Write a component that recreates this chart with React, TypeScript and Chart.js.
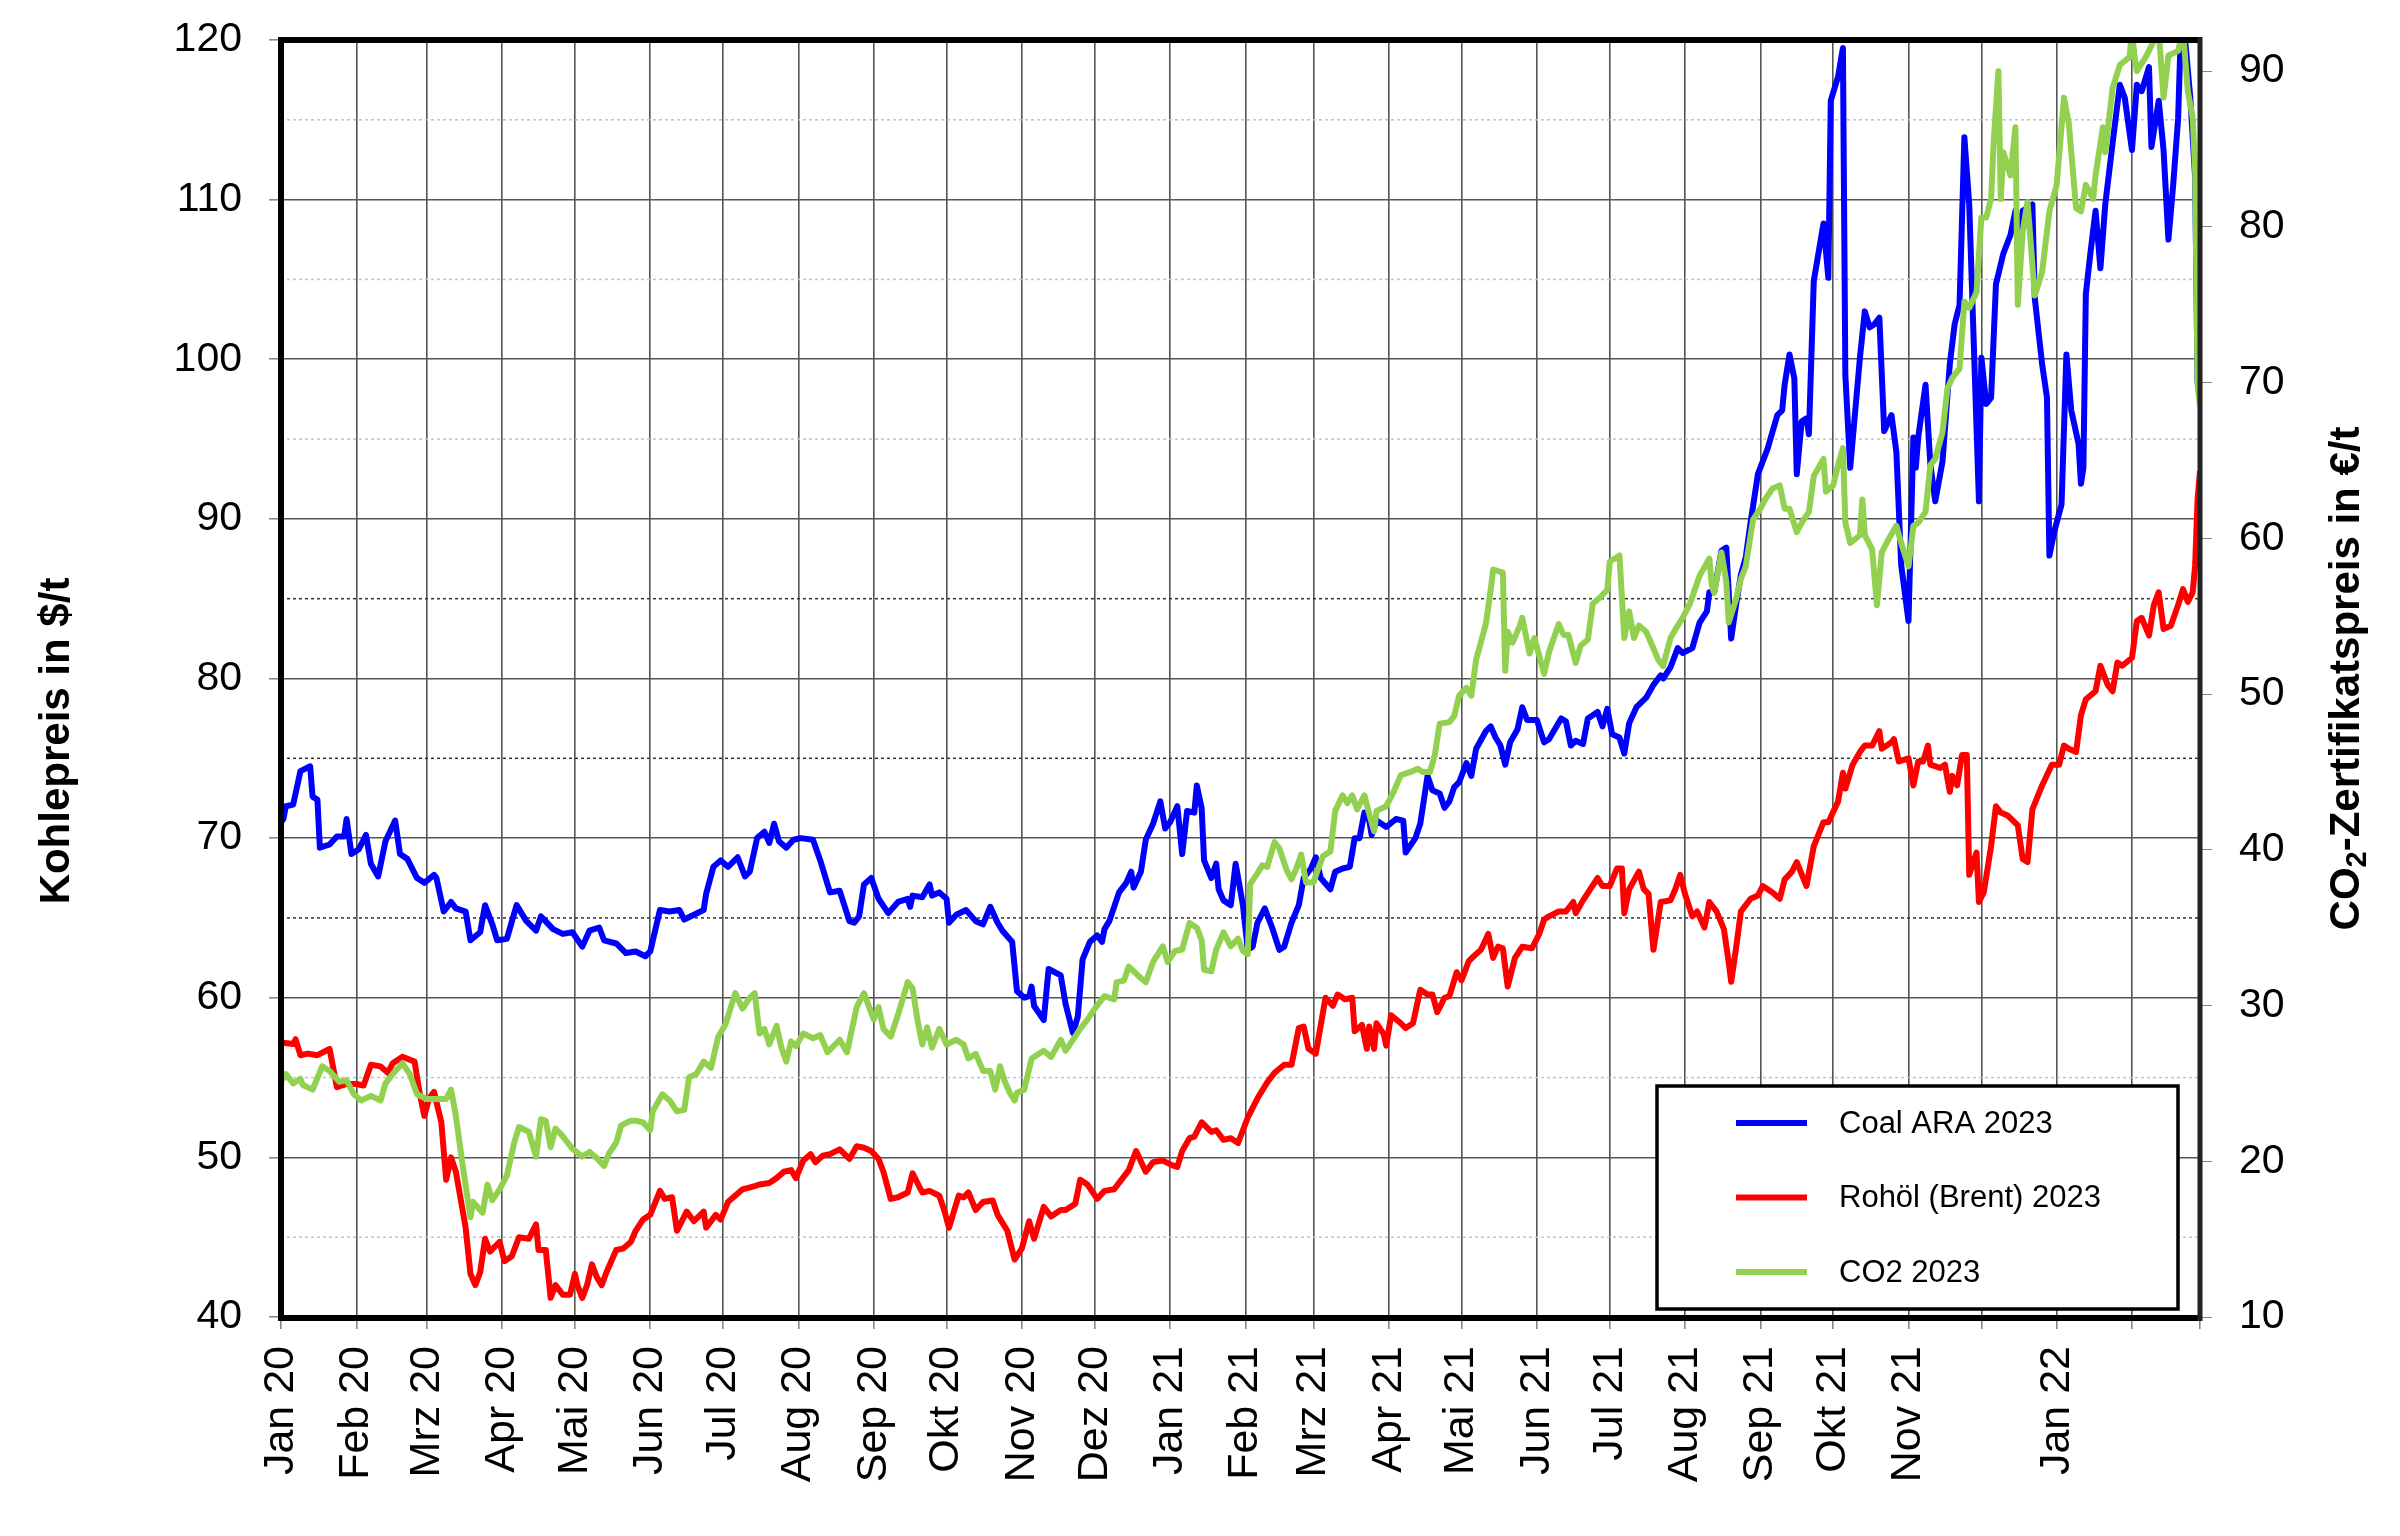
import { useEffect, useRef } from "react";
import { Chart, registerables } from "chart.js";

Chart.register(...registerables);

// days since 1 Jan 2020 for each month start (grid lines), last one = 1 Mar 2022
const monthStarts = [0, 31, 60, 91, 121, 152, 182, 213, 244, 274, 305, 335, 366, 397, 425, 456, 486, 517, 547, 578, 609, 639, 670, 700, 731, 762, 790];
const monthLabels = ["Jan 20", "Feb 20", "Mrz 20", "Apr 20", "Mai 20", "Jun 20", "Jul 20", "Aug 20", "Sep 20", "Okt 20", "Nov 20", "Dez 20", "Jan 21", "Feb 21", "Mrz 21", "Apr 21", "Mai 21", "Jun 21", "Jul 21", "Aug 21", "Sep 21", "Okt 21", "Nov 21", "", "Jan 22", "", ""];

const seriesLabels = ["Coal ARA 2023", "Rohöl (Brent) 2023", "CO2 2023"];
const seriesColors = ["#0000ff", "#ff0000", "#92d050"];

// [day, $/t]
const coal: [number, number][] = [
  [0, 71.0], [1, 71.2], [2, 72.0], [5, 72.1], [8, 74.2], [12, 74.5], [13, 72.6], [15, 72.4], [16, 69.4], [20, 69.6], [23, 70.1], [26, 70.1], [27, 71.2], [29, 69.0], [32, 69.3], [35, 70.2], [37, 68.4], [40, 67.6], [43, 69.8], [47, 71.1], [49, 69.0], [52, 68.7], [56, 67.5], [59, 67.2], [63, 67.7], [64, 67.5], [67, 65.4], [70, 66.0], [72, 65.6], [76, 65.4], [78, 63.6], [82, 64.1], [84, 65.8], [87, 64.6], [89, 63.6], [93, 63.7], [97, 65.8], [101, 64.8], [105, 64.2], [107, 65.1], [112, 64.3], [116, 64.0], [120, 64.1], [124, 63.2], [127, 64.2], [131, 64.4], [133, 63.6], [138, 63.4], [142, 62.8], [146, 62.9], [150, 62.6], [152, 62.9], [156, 65.5], [160, 65.4], [164, 65.5], [166, 64.9], [170, 65.2], [174, 65.5], [175, 66.5], [178, 68.2], [181, 68.6], [184, 68.2], [188, 68.8], [191, 67.6],
  [193, 67.9], [196, 70.0], [199, 70.4], [201, 69.7], [203, 70.9], [205, 69.8], [208, 69.4], [211, 69.9], [214, 70.0], [219, 69.9], [222, 68.6], [226, 66.6], [230, 66.7], [234, 64.8], [236, 64.7], [238, 65.1], [240, 67.1], [243, 67.5], [246, 66.2], [250, 65.3], [254, 66.0], [258, 66.2], [259, 65.7], [260, 66.4], [264, 66.3], [267, 67.1], [268, 66.4], [271, 66.6], [274, 66.2], [275, 64.7], [278, 65.2], [282, 65.5], [286, 64.8], [289, 64.6], [292, 65.7], [295, 64.7], [297, 64.2], [301, 63.5], [303, 60.4], [306, 60.0], [308, 60.1], [309, 60.7], [310, 59.5], [314, 58.6], [316, 61.8], [321, 61.4], [323, 59.6], [326, 57.8], [328, 58.8], [330, 62.4], [333, 63.5], [336, 63.9], [338, 63.5], [339, 64.3], [341, 64.8], [345, 66.6], [348, 67.2], [350, 67.9], [351, 66.9], [354, 67.9], [356, 69.9], [359, 70.9], [362, 72.3], [364, 70.6], [366, 71.0], [369, 72.0], [371, 69.0], [373, 71.7], [376, 71.6], [377, 73.3], [379, 71.9], [380, 68.6], [383, 67.5], [385, 68.4], [386, 66.8], [388, 66.1], [391, 65.8], [393, 68.4],
  [396, 65.8], [398, 63.0], [400, 63.2], [402, 64.7], [405, 65.6], [408, 64.4], [411, 63.0], [413, 63.2], [416, 64.7], [419, 65.8], [421, 67.5], [424, 68.1], [426, 68.8], [428, 67.5], [432, 66.8], [434, 67.9], [437, 68.1], [440, 68.2], [442, 70.0], [444, 70.0], [446, 71.6], [448, 71.1], [449, 70.2], [451, 71.1], [455, 70.7], [459, 71.2], [462, 71.1], [463, 69.1], [467, 70.0], [469, 70.9], [472, 73.9], [474, 73.0], [477, 72.8], [479, 71.9], [481, 72.3], [483, 73.2], [485, 73.5], [488, 74.7], [490, 73.9], [492, 75.6], [496, 76.7], [498, 77.0], [500, 76.3], [502, 75.8], [504, 74.6], [506, 76.0], [509, 76.8], [511, 78.2], [513, 77.4], [517, 77.4], [520, 76.0], [522, 76.2], [527, 77.5], [529, 77.3], [531, 75.8], [533, 76.1], [536, 75.9], [538, 77.5], [542, 77.9], [544, 77.0], [546, 78.1], [548, 76.5], [551, 76.3], [553, 75.3], [555, 77.2], [558, 78.2], [562, 78.8], [565, 79.6], [568, 80.2], [569, 80.0], [572, 80.7], [575, 81.9], [577, 81.6], [581, 81.9], [584, 83.5],
  [587, 84.2], [588, 85.4], [590, 85.4], [593, 88.0], [595, 88.2], [597, 82.5], [599, 84.6], [601, 86.5], [603, 87.6], [605, 89.8], [608, 92.8], [612, 94.4], [616, 96.5], [618, 96.8], [619, 98.4], [621, 100.3], [623, 98.8], [624, 92.8], [626, 96.1], [628, 96.3], [629, 95.3], [631, 104.9], [635, 108.5], [637, 105.1], [638, 116.2], [641, 117.7], [643, 119.5], [644, 99.0], [646, 93.2], [650, 100.1], [652, 103.0], [654, 102.0], [656, 102.2], [658, 102.6], [660, 95.5], [663, 96.5], [665, 94.2], [667, 87.1], [670, 83.6], [672, 95.1], [673, 93.2], [674, 95.1], [677, 98.4], [679, 93.4], [681, 91.1], [684, 93.6], [687, 99.7], [689, 102.2], [691, 103.4], [693, 113.9], [695, 109.7], [699, 91.1], [700, 100.1], [702, 97.2], [704, 97.6], [706, 104.7], [709, 106.6], [712, 107.8], [714, 109.3], [716, 108.0], [717, 109.3], [721, 109.7], [722, 103.8], [725, 99.7], [727, 97.6], [728, 87.7], [730, 89.2], [733, 90.9], [735, 100.3], [737, 96.8], [740, 94.7], [741, 92.2], [742, 93.2], [743, 104.1], [745, 106.8], [747, 109.3], [749, 105.7], [751, 109.7], [754, 113.5], [757, 117.2], [759, 116.4], [762, 113.1], [764, 117.2], [766, 116.8], [769, 118.3], [770, 113.3], [773, 116.2], [775, 113.1], [777, 107.5], [779, 111.0], [781, 115.1], [782, 120.0], [784, 119.8], [786, 116.4], [788, 111.4], [789, 98.5],
];

// [day, $/bbl]
const brent: [number, number][] = [
  [0, 57.2], [5, 57.1], [6, 57.4], [8, 56.4], [11, 56.5], [15, 56.4], [20, 56.8], [23, 54.4], [27, 54.6], [31, 54.6], [34, 54.5], [37, 55.8], [41, 55.7], [44, 55.3], [46, 55.9], [50, 56.3], [55, 56.0], [57, 54.1], [59, 52.6], [61, 53.7], [63, 54.1], [66, 52.2], [68, 48.6], [70, 50.0], [72, 49.1], [76, 45.6], [78, 42.7], [80, 42.0], [82, 42.8], [84, 44.9], [86, 44.1], [90, 44.7], [92, 43.5], [95, 43.8], [98, 45.0], [102, 44.9], [105, 45.8], [106, 44.2], [109, 44.2], [111, 41.2], [113, 42.0], [116, 41.4], [119, 41.4], [121, 42.7], [122, 42.0], [124, 41.2], [126, 42.0], [128, 43.3], [130, 42.5], [132, 42.0], [134, 42.8], [138, 44.2], [141, 44.3], [144, 44.7], [146, 45.4], [149, 46.1], [152, 46.4], [156, 47.9], [158, 47.4], [161, 47.5], [163, 45.4], [167, 46.6], [170, 46.0], [174, 46.6], [175, 45.6], [179, 46.4], [181, 46.1], [184, 47.2], [190, 48.0],
  [195, 48.2], [197, 48.3], [201, 48.4], [204, 48.7], [207, 49.1], [210, 49.2], [212, 48.7], [215, 49.8], [218, 50.2], [220, 49.7], [223, 50.1], [226, 50.2], [230, 50.5], [234, 49.9], [237, 50.7], [240, 50.6], [243, 50.4], [246, 49.9], [248, 49.1], [251, 47.4], [254, 47.5], [258, 47.8], [260, 49.0], [264, 47.8], [267, 47.9], [271, 47.6], [273, 46.7], [275, 45.6], [279, 47.6], [281, 47.5], [283, 47.8], [286, 46.7], [289, 47.2], [293, 47.3], [295, 46.4], [299, 45.4], [302, 43.6], [305, 44.3], [308, 46.0], [310, 44.9], [314, 46.9], [317, 46.3], [321, 46.7], [323, 46.7], [327, 47.1], [329, 48.6], [332, 48.3], [336, 47.4], [339, 47.9], [343, 48.0], [345, 48.4], [349, 49.2], [352, 50.4], [356, 49.1], [359, 49.7], [363, 49.8], [367, 49.5], [369, 49.4], [371, 50.4], [374, 51.2], [376, 51.3], [379, 52.2], [383, 51.6], [385, 51.7], [388, 51.1], [391, 51.2], [394, 50.9],
  [398, 52.5], [402, 53.7], [406, 54.7], [409, 55.3], [413, 55.8], [416, 55.8], [419, 58.1], [421, 58.2], [423, 56.8], [426, 56.5], [430, 60.0], [433, 59.5], [435, 60.2], [438, 59.9], [441, 60.0], [442, 57.9], [445, 58.3], [447, 56.8], [448, 58.2], [450, 56.8], [451, 58.4], [454, 57.7], [455, 57.0], [457, 58.9], [461, 58.4], [463, 58.1], [466, 58.4], [469, 60.5], [472, 60.2], [474, 60.2], [476, 59.1], [479, 60.0], [481, 60.1], [484, 61.6], [486, 61.1], [489, 62.3], [491, 62.6], [494, 63.0], [497, 64.0], [499, 62.5], [501, 63.2], [503, 63.1], [505, 60.7], [508, 62.5], [511, 63.2], [515, 63.1], [518, 64.0], [520, 64.9], [522, 65.1], [526, 65.4], [529, 65.4], [532, 66.0], [533, 65.3], [536, 66.1], [539, 66.8], [542, 67.5], [544, 67.0], [547, 67.0], [550, 68.1], [552, 68.1], [553, 65.3], [555, 66.8], [559, 67.9], [561, 66.8], [563, 66.5], [565, 63.0], [568, 66.0], [572, 66.1], [574, 66.8], [576, 67.7], [578, 66.5], [581, 65.1], [583, 65.4], [586, 64.4],
  [588, 66.0], [591, 65.4], [594, 64.3], [596, 62.2], [597, 61.0], [599, 63.1], [601, 65.4], [603, 65.8], [605, 66.2], [608, 66.4], [610, 67.0], [614, 66.6], [617, 66.2], [619, 67.4], [622, 67.9], [624, 68.5], [628, 67.0], [631, 69.5], [635, 71.0], [637, 71.0], [641, 72.3], [643, 74.1], [644, 73.1], [647, 74.6], [650, 75.4], [652, 75.8], [655, 75.8], [658, 76.7], [659, 75.6], [663, 76.0], [664, 76.2], [666, 74.8], [670, 75.0], [672, 73.3], [674, 74.8], [676, 74.8], [678, 75.8], [679, 74.6], [683, 74.4], [685, 74.6], [687, 72.9], [688, 73.9], [690, 73.3], [692, 75.2], [694, 75.2], [695, 67.7], [698, 69.1], [699, 66.0], [701, 66.6], [704, 69.5], [706, 72.0], [708, 71.6], [711, 71.4], [715, 70.8], [717, 68.7], [719, 68.5], [721, 71.8], [725, 73.3], [729, 74.6], [732, 74.6], [734, 75.8], [736, 75.6], [739, 75.4], [741, 77.7], [743, 78.7], [747, 79.2], [749, 80.8], [752, 79.6], [754, 79.2], [756, 81.0], [758, 80.8], [762, 81.3], [764, 83.6], [766, 83.8], [769, 82.7], [771, 84.6], [773, 85.4], [775, 83.1], [778, 83.3], [781, 84.6], [783, 85.6], [785, 84.8], [787, 85.4], [788, 87.1], [789, 91.2], [790, 93.0],
];

// [day, €/t]
const co2: [number, number][] = [
  [0, 25.5], [1, 25.3], [2, 25.6], [5, 25.0], [8, 25.3], [9, 24.9], [13, 24.6], [17, 26.1], [20, 25.8], [24, 25.1], [27, 25.2], [30, 24.3], [33, 23.9], [37, 24.2], [41, 23.9], [43, 25.0], [46, 25.6], [50, 26.3], [53, 25.6], [56, 24.3], [60, 24.0], [64, 24.0], [68, 24.0], [70, 24.6], [72, 22.9], [75, 19.5], [78, 16.4], [79, 17.4], [83, 16.7], [85, 18.5], [87, 17.5], [90, 18.2], [93, 19.1], [96, 21.2], [98, 22.2], [102, 21.9], [105, 20.3], [107, 22.7], [109, 22.6], [111, 20.9], [113, 22.1], [116, 21.6], [120, 20.8], [124, 20.3], [127, 20.6], [130, 20.2], [133, 19.7], [135, 20.5], [138, 21.2], [140, 22.3], [144, 22.6], [146, 22.6], [149, 22.5], [152, 22.0], [153, 23.2], [157, 24.3], [160, 23.9], [163, 23.2], [166, 23.3], [168, 25.4], [171, 25.6], [174, 26.4], [177, 26.0], [180, 28.0], [183, 28.8], [187, 30.8], [190, 29.8],
  [193, 30.5], [195, 30.8], [197, 28.2], [199, 28.5], [201, 27.5], [204, 28.7], [206, 27.3], [208, 26.4], [210, 27.7], [212, 27.4], [215, 28.2], [219, 27.9], [222, 28.1], [225, 27.0], [230, 27.8], [233, 27.0], [237, 29.9], [240, 30.8], [244, 29.1], [246, 29.9], [248, 28.5], [251, 28.0], [254, 29.4], [258, 31.5], [260, 31.1], [262, 29.1], [264, 27.5], [266, 28.6], [268, 27.3], [271, 28.5], [274, 27.5], [278, 27.8], [281, 27.5], [283, 26.6], [286, 26.9], [289, 25.8], [292, 25.8], [294, 24.6], [296, 26.1], [298, 25.1], [300, 24.4], [302, 23.9], [303, 24.4], [306, 24.6], [309, 26.6], [313, 27.0], [314, 27.1], [317, 26.7], [321, 27.8], [323, 27.1], [326, 27.8], [329, 28.5], [332, 29.1], [335, 29.8], [339, 30.6], [343, 30.4], [344, 31.5], [347, 31.6], [349, 32.5], [351, 32.2], [353, 31.9], [356, 31.5], [359, 32.8], [363, 33.8], [365, 32.8], [368, 33.5], [371, 33.6], [374, 35.3], [377, 35.0], [379, 34.2], [380, 32.3], [383, 32.2], [385, 33.6], [388, 34.7], [391, 33.8], [394, 34.3], [396, 33.5],
  [398, 33.3], [399, 37.8], [402, 38.5], [404, 39.0], [406, 38.9], [409, 40.5], [411, 40.1], [414, 38.7], [416, 38.1], [418, 38.8], [420, 39.7], [422, 37.9], [425, 37.9], [427, 38.8], [429, 39.6], [432, 39.9], [434, 42.5], [437, 43.5], [439, 43.0], [441, 43.5], [443, 42.6], [446, 43.5], [448, 42.3], [450, 41.2], [451, 42.5], [455, 42.8], [458, 43.7], [461, 44.8], [465, 45.0], [468, 45.2], [470, 45.0], [473, 45.0], [475, 46.1], [477, 48.1], [481, 48.2], [483, 48.6], [485, 49.9], [488, 50.4], [490, 49.9], [492, 52.2], [496, 54.5], [498, 56.7], [499, 58.0], [503, 57.8], [504, 51.5], [505, 54.0], [507, 53.3], [510, 54.4], [511, 54.9], [514, 52.6], [516, 53.6], [520, 51.3], [522, 52.7], [526, 54.5], [528, 53.8], [530, 53.8], [533, 52.0], [535, 53.1], [538, 53.5], [540, 55.8], [543, 56.2], [546, 56.7], [547, 58.5], [551, 58.9], [553, 53.6], [555, 55.3], [557, 53.6], [559, 54.4], [562, 54.0], [564, 53.3], [567, 52.2], [569, 51.8], [572, 53.6], [575, 54.4], [577, 54.9], [580, 55.8], [584, 57.6],
  [588, 58.7], [589, 57.0], [590, 56.5], [593, 59.1], [595, 57.2], [596, 54.6], [599, 56.1], [601, 57.4], [603, 58.2], [606, 61.2], [609, 61.9], [611, 62.5], [614, 63.2], [617, 63.4], [619, 61.9], [621, 61.9], [624, 60.4], [626, 61.0], [629, 61.7], [631, 64.0], [635, 65.1], [636, 63.0], [639, 63.4], [641, 64.7], [643, 65.8], [644, 61.0], [646, 59.7], [650, 60.2], [651, 62.5], [652, 60.2], [655, 59.3], [657, 55.7], [659, 59.1], [662, 60.0], [665, 60.8], [667, 59.7], [670, 58.2], [672, 60.8], [674, 61.0], [677, 61.7], [679, 64.7], [681, 65.1], [684, 66.8], [686, 69.6], [688, 70.3], [691, 70.9], [693, 75.2], [695, 74.8], [698, 75.8], [700, 80.6], [702, 80.6], [704, 81.8], [705, 85.3], [707, 90.0], [708, 81.8], [709, 84.8], [712, 83.3], [714, 86.4], [715, 75.0], [717, 79.7], [719, 81.6], [722, 75.6], [725, 77.1], [728, 81.0], [731, 82.7], [734, 88.3], [736, 86.6], [739, 81.2], [741, 81.0], [743, 82.7], [746, 81.8], [747, 83.3], [750, 86.4], [751, 84.8], [754, 88.9], [757, 90.4], [761, 90.9], [762, 92.6], [763, 91.0], [764, 90.0], [768, 91.0], [773, 92.6], [775, 88.3], [777, 91.0], [781, 91.3], [783, 92.6], [785, 88.7], [787, 87.0], [788, 83.6], [789, 69.8], [790, 68.5],
];

const FONT = "'Liberation Sans', Arial, sans-serif";

const decorPlugin = {
  id: "decor",
  beforeDatasetsDraw(chart: any) {
    const { ctx, chartArea: a, scales } = chart;
    ctx.save();
    ctx.lineWidth = 1.5;
    ctx.setLineDash([3, 3]);
    for (let v = 45; v < 120; v += 10) {
      const py = scales.y.getPixelForValue(v);
      ctx.strokeStyle = v >= 65 && v <= 85 ? "#333" : "#c4c4c4";
      ctx.beginPath();
      ctx.moveTo(a.left, py);
      ctx.lineTo(a.right, py);
      ctx.stroke();
    }
    ctx.restore();
  },
  afterDatasetsDraw(chart: any) {
    const { ctx, chartArea: a } = chart;
    ctx.save();
    ctx.strokeStyle = "#000";
    ctx.lineWidth = 6;
    ctx.beginPath();
    ctx.moveTo(a.left, a.bottom + 1);
    ctx.lineTo(a.left, a.top);
    ctx.lineTo(a.right, a.top);
    ctx.moveTo(a.left - 3, a.bottom + 1);
    ctx.lineTo(a.right, a.bottom + 1);
    ctx.stroke();
    ctx.strokeStyle = "#222";
    ctx.lineWidth = 5;
    ctx.beginPath();
    ctx.moveTo(a.right, a.top - 3);
    ctx.lineTo(a.right, a.bottom + 4);
    ctx.stroke();
    ctx.restore();
  },
  afterDraw(chart: any) {
    const { ctx, chartArea: a } = chart;
    ctx.save();
    ctx.fillStyle = "#000";
    ctx.textBaseline = "middle";

    // left axis title
    ctx.font = `bold 42px ${FONT}`;
    ctx.textAlign = "center";
    ctx.save();
    ctx.translate(57, a.top + 701);
    ctx.rotate(-Math.PI / 2);
    ctx.fillText("Kohlepreis in $/t", 0, 0);
    ctx.restore();

    // right axis title with subscript
    const p1 = "CO";
    const p2 = "2";
    const p3 = "-Zertifikatspreis in €/t";
    ctx.font = `bold 42px ${FONT}`;
    const w1 = ctx.measureText(p1).width;
    const w3 = ctx.measureText(p3).width;
    ctx.font = `bold 29px ${FONT}`;
    const w2 = ctx.measureText(p2).width;
    const total = w1 + w2 + w3;
    ctx.save();
    ctx.translate(a.right + 147, (a.top + a.bottom) / 2);
    ctx.rotate(-Math.PI / 2);
    ctx.textAlign = "left";
    let x = -total / 2;
    ctx.font = `bold 42px ${FONT}`;
    ctx.fillText(p1, x, 0);
    x += w1;
    ctx.font = `bold 29px ${FONT}`;
    ctx.fillText(p2, x, 11);
    x += w2;
    ctx.font = `bold 42px ${FONT}`;
    ctx.fillText(p3, x, 0);
    ctx.restore();

    // legend box
    const bx = a.right - 543;
    const by = a.bottom - 231;
    const bw = 521;
    const bh = 223;
    ctx.fillStyle = "#fff";
    ctx.fillRect(bx, by, bw, bh);
    ctx.strokeStyle = "#000";
    ctx.lineWidth = 3.5;
    ctx.strokeRect(bx, by, bw, bh);
    ctx.font = `31px ${FONT}`;
    ctx.textAlign = "left";
    chart.data.datasets.forEach((ds: any, i: number) => {
      const ly = by + 37 + i * 74.5;
      ctx.strokeStyle = ds.borderColor;
      ctx.lineWidth = 6;
      ctx.beginPath();
      ctx.moveTo(bx + 79, ly);
      ctx.lineTo(bx + 150, ly);
      ctx.stroke();
      ctx.fillStyle = "#000";
      ctx.fillText(ds.label, bx + 182, ly + 1);
    });
    ctx.restore();
  },
};

const toPoints = (arr: [number, number][]) => arr.map(([x, y]) => ({ x, y }));

const App = () => {
  const canvasRef = useRef<HTMLCanvasElement>(null);

  useEffect(() => {
    if (!canvasRef.current) return;
    Chart.defaults.font.family = FONT;
    Chart.defaults.color = "#000";

    const line = (i: number, data: [number, number][], axis: string, order: number) => ({
      label: seriesLabels[i],
      data: toPoints(data),
      borderColor: seriesColors[i],
      backgroundColor: seriesColors[i],
      borderWidth: 6,
      pointRadius: 0,
      tension: 0,
      borderJoinStyle: "round" as const,
      yAxisID: axis,
      order,
    });

    // keep tick labels from pushing the plot area around
    const noPad = (w: number) => (scale: any) => {
      scale.width = w;
      scale.paddingTop = 0;
      scale.paddingBottom = 0;
    };

    const chart = new Chart(canvasRef.current, {
      type: "line",
      data: {
        datasets: [line(0, coal, "y", 1), line(1, brent, "y", 2), line(2, co2, "y2", 0)],
      },
      options: {
        responsive: false,
        animation: false,
        events: [],
        layout: { padding: { top: 40, left: 0, right: 0, bottom: 0 } },
        plugins: { legend: { display: false }, tooltip: { enabled: false } },
        scales: {
          x: {
            type: "linear",
            min: 0,
            max: 790,
            afterBuildTicks: (scale: any) => {
              scale.ticks = monthStarts.map((value) => ({ value }));
            },
            afterFit: (scale: any) => {
              scale.height = 219;
            },
            ticks: {
              autoSkip: false,
              maxRotation: 90,
              minRotation: 90,
              padding: 17,
              font: { size: 43 },
              callback: (_v: any, i: number) => monthLabels[i],
            },
            grid: { color: "#555", lineWidth: 1.6, tickLength: 12, tickColor: "#888" },
            border: { display: false },
          },
          y: {
            position: "left",
            min: 40,
            max: 120,
            afterFit: noPad(281),
            ticks: { stepSize: 10, padding: 27, font: { size: 41 } },
            grid: { color: "#555", lineWidth: 1.6, tickLength: 12, tickColor: "#888" },
            border: { display: false },
          },
          y2: {
            position: "right",
            min: 10,
            max: 92,
            afterFit: noPad(200),
            ticks: { stepSize: 10, includeBounds: false, padding: 27, font: { size: 41 } },
            grid: { drawOnChartArea: false, tickLength: 12, tickColor: "#888" },
            border: { display: false },
          },
        },
      },
      plugins: [decorPlugin],
    });

    return () => chart.destroy();
  }, []);

  return (
    <div style={{ position: "absolute", left: 0, top: 0, width: 2400, height: 1536, background: "#fff" }}>
      <canvas ref={canvasRef} width={2400} height={1536} style={{ display: "block", width: 2400, height: 1536 }} />
    </div>
  );
};

export default App;
